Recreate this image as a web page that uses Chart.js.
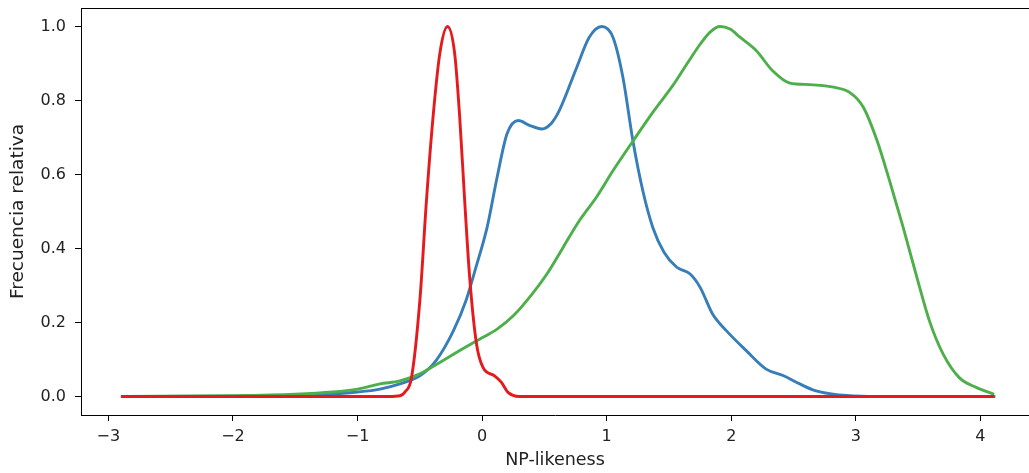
<!DOCTYPE html>
<html>
<head>
<meta charset="utf-8">
<script src="https://cdn.jsdelivr.net/npm/chart.js@4"></script>
<style>
  html, body { margin: 0; padding: 0; background: #fff; overflow: hidden; }
  #wrap { width: 1029px; height: 473px; position: relative; }
</style>
</head>
<body>
<div id="wrap"><canvas id="chart"></canvas></div>
<script>
// values
const blueX = [-2.87, -2.0, -1.5, -1.2, -1.0, -0.82, -0.66, -0.5, -0.37, -0.23, -0.13, -0.05, 0.04, 0.12, 0.2, 0.29, 0.38, 0.48, 0.56, 0.62, 0.76, 0.86, 0.96, 1.05, 1.13, 1.21, 1.29, 1.37, 1.46, 1.56, 1.67, 1.75, 1.85, 1.96, 2.12, 2.28, 2.42, 2.55, 2.68, 2.87, 3.1, 4.12];
const blueY = [0, 0.001, 0.003, 0.007, 0.012, 0.02, 0.034, 0.056, 0.097, 0.178, 0.259, 0.349, 0.457, 0.592, 0.71, 0.746, 0.733, 0.723, 0.74, 0.773, 0.89, 0.971, 1.0, 0.971, 0.863, 0.692, 0.556, 0.457, 0.39, 0.35, 0.331, 0.295, 0.223, 0.178, 0.124, 0.074, 0.056, 0.034, 0.015, 0.004, 0.0, 0.0];

const greenX = [-2.87, -2.0, -1.5, -1.2, -1.0, -0.82, -0.66, -0.5, -0.34, -0.18, -0.02, 0.12, 0.25, 0.38, 0.52, 0.65, 0.78, 0.92, 1.05, 1.21, 1.37, 1.53, 1.65, 1.75, 1.83, 1.91, 1.99, 2.07, 2.2, 2.33, 2.47, 2.63, 2.82, 2.95, 3.06, 3.17, 3.27, 3.38, 3.49, 3.59, 3.7, 3.83, 3.97, 4.11];
const greenY = [0, 0.002, 0.006, 0.012, 0.02, 0.034, 0.042, 0.061, 0.092, 0.124, 0.155, 0.182, 0.218, 0.268, 0.331, 0.403, 0.475, 0.54, 0.61, 0.69, 0.768, 0.84, 0.902, 0.952, 0.985, 1.0, 0.993, 0.971, 0.935, 0.881, 0.847, 0.843, 0.836, 0.822, 0.782, 0.692, 0.584, 0.457, 0.322, 0.205, 0.115, 0.051, 0.024, 0.006];

const redX = [-2.9, -0.75, -0.66, -0.62, -0.567, -0.5, -0.447, -0.394, -0.34, -0.278, -0.22, -0.18, -0.14, -0.1, -0.045, 0.008, 0.1, 0.155, 0.208, 0.3, 4.11];
const redY = [0, 0, 0.002, 0.012, 0.051, 0.259, 0.529, 0.755, 0.926, 1.0, 0.926, 0.755, 0.529, 0.322, 0.142, 0.078, 0.056, 0.038, 0.011, 0.0, 0.0];

const xTicks = [-3, -2, -1, 0, 1, 2, 3, 4];
const yTicks = [0.0, 0.2, 0.4, 0.6, 0.8, 1.0];

function points(xs, ys) {
    return xs.map((x, i) => ({x: x, y: ys[i]}));
}

// top spine like matplotlib (right one falls outside the picture)
const frame = {
    id: 'frame',
    afterDraw(chart) {
        const a = chart.chartArea;
        const ctx = chart.ctx;
        ctx.save();
        ctx.strokeStyle = '#000';
        ctx.lineWidth = 1;
        ctx.beginPath();
        ctx.moveTo(a.left, a.top + 0.5);
        ctx.lineTo(a.right, a.top + 0.5);
        ctx.stroke();
        ctx.restore();
    }
};

const tickFont = {family: 'DejaVu Sans', size: 16};
const titleFont = {family: 'DejaVu Sans', size: 17.5};

new Chart(document.getElementById('chart'), {
    type: 'line',
    data: {
        datasets: [
            {data: points(blueX, blueY), borderColor: '#377eb8', order: 3},
            {data: points(greenX, greenY), borderColor: '#4daf4a', order: 2},
            {data: points(redX, redY), borderColor: '#e41a1c', order: 1},
        ],
    },
    options: {
        responsive: true,
        maintainAspectRatio: false,
        animation: false,
        layout: {padding: {top: 8, right: 0, left: 0, bottom: 0}},
        elements: {
            point: {radius: 0},
            line: {borderWidth: 2.9, cubicInterpolationMode: 'monotone', fill: false},
        },
        plugins: {legend: {display: false}, tooltip: {enabled: false}},
        scales: {
            x: {
                type: 'linear',
                min: -3.22,
                max: 4.39,
                afterBuildTicks: axis => { axis.ticks = xTicks.map(v => ({value: v})); },
                afterFit: axis => { axis.height = 58; axis.paddingLeft = 0; axis.paddingRight = 0; },
                grid: {drawOnChartArea: false, drawTicks: true, tickLength: 6, tickColor: '#000'},
                border: {display: true, color: '#000', width: 1},
                ticks: {
                    font: tickFont, color: '#222', padding: 6, maxRotation: 0,
                    callback: v => String(v).replace('-', '\u2212'),
                },
                title: {display: true, text: 'NP-likeness', font: titleFont, color: '#222', padding: {top: 0, bottom: 2}},
            },
            y: {
                min: -0.05,
                max: 1.05,
                afterBuildTicks: axis => { axis.ticks = yTicks.map(v => ({value: v})); },
                afterFit: axis => { axis.width = 81; axis.paddingTop = 0; axis.paddingBottom = 0; },
                grid: {drawOnChartArea: false, drawTicks: true, tickLength: 6, tickColor: '#000'},
                border: {display: true, color: '#000', width: 1},
                ticks: {font: tickFont, color: '#222', padding: 9, callback: v => v.toFixed(1)},
                title: {display: true, text: 'Frecuencia relativa', font: {family: 'DejaVu Sans', size: 18.5}, color: '#222', padding: {top: 7, bottom: 0}},
            },
        },
    },
    plugins: [frame],
});
</script>
</body>
</html>
